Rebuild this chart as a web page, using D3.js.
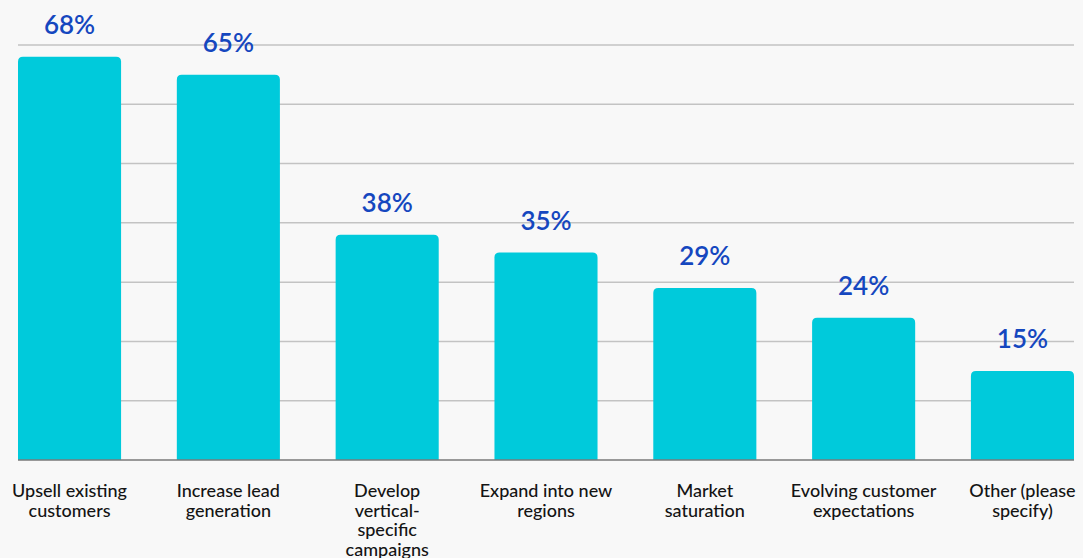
<!DOCTYPE html>
<html>
<head>
<meta charset="utf-8">
<script src="https://cdn.jsdelivr.net/npm/d3@7"></script>
<style>
  html, body { margin: 0; padding: 0; background: #f8f8f8; }
  svg { display: block; }
</style>
</head>
<body>
<svg id="chart" width="1083" height="558"></svg>
<script>
// Survey responses: share of respondents per priority
const categories = [
  "Upsell existing customers",
  "Increase lead generation",
  "Develop vertical-specific campaigns",
  "Expand into new regions",
  "Market saturation",
  "Evolving customer expectations",
  "Other (please specify)"
];
// Wrapped axis labels, one entry per category
const categoryLines = [
  ["Upsell existing", "customers"],
  ["Increase lead", "generation"],
  ["Develop", "vertical-", "specific", "campaigns"],
  ["Expand into new", "regions"],
  ["Market", "saturation"],
  ["Evolving customer", "expectations"],
  ["Other (please", "specify)"]
];
const values = [68, 65, 38, 35, 29, 24, 15];
const gridTicks = [10, 20, 30, 40, 50, 60, 70];

const svg = d3.select("#chart");
const plotLeft = 18, plotRight = 1074, plotTop = 45, plotBottom = 460;

const x = d3.scaleBand()
  .domain(categories)
  .range([plotLeft, plotRight])
  .paddingInner(0.351)
  .paddingOuter(0);

const y = d3.scaleLinear().domain([0, 70]).range([plotBottom, plotTop]);

// Horizontal gridlines
svg.append("g")
  .selectAll("line")
  .data(gridTicks)
  .join("line")
  .attr("x1", plotLeft)
  .attr("x2", plotRight)
  .attr("y1", d => y(d))
  .attr("y2", d => y(d))
  .attr("stroke", "#c3c3c3")
  .attr("stroke-width", 1.5);

// Bars with rounded top corners
const r = 5;
svg.append("g")
  .selectAll("path")
  .data(values)
  .join("path")
  .attr("fill", "#00cadb")
  .attr("d", (d, i) => {
    const x0 = x(categories[i]), w = x.bandwidth();
    const y0 = y(d), y1 = y(0);
    return `M${x0},${y1}V${y0 + r}Q${x0},${y0} ${x0 + r},${y0}` +
           `H${x0 + w - r}Q${x0 + w},${y0} ${x0 + w},${y0 + r}V${y1}Z`;
  });

// Baseline
svg.append("line")
  .attr("x1", plotLeft).attr("x2", plotRight)
  .attr("y1", y(0)).attr("y2", y(0))
  .attr("stroke", "#7a7a7a")
  .attr("stroke-width", 1.5);

// Value labels above bars
svg.append("g")
  .selectAll("text")
  .data(values)
  .join("text")
  .attr("x", (d, i) => x(categories[i]) + x.bandwidth() / 2)
  .attr("y", d => y(d) - 23)
  .attr("text-anchor", "middle")
  .attr("font-family", "Lato, 'Open Sans', sans-serif")
  .attr("font-weight", 600)
  .attr("font-size", 26)
  .attr("fill", "#1547bf")
  .text(d => d + "%");

// Category labels under the baseline
const labels = svg.append("g")
  .selectAll("text")
  .data(categoryLines)
  .join("text")
  .attr("x", (d, i) => x(categories[i]) + x.bandwidth() / 2)
  .attr("y", 497)
  .attr("text-anchor", "middle")
  .attr("font-family", "Lato, 'Open Sans', sans-serif")
  .attr("font-weight", 500)
  .attr("font-size", 18)
  .attr("fill", "#141414");

labels.selectAll("tspan")
  .data((d, i) => d.map(t => ({ t, cx: x(categories[i]) + x.bandwidth() / 2 })))
  .join("tspan")
  .attr("x", d => d.cx)
  .attr("dy", (d, j) => j === 0 ? 0 : 19.5)
  .text(d => d.t);
</script>
</body>
</html>
